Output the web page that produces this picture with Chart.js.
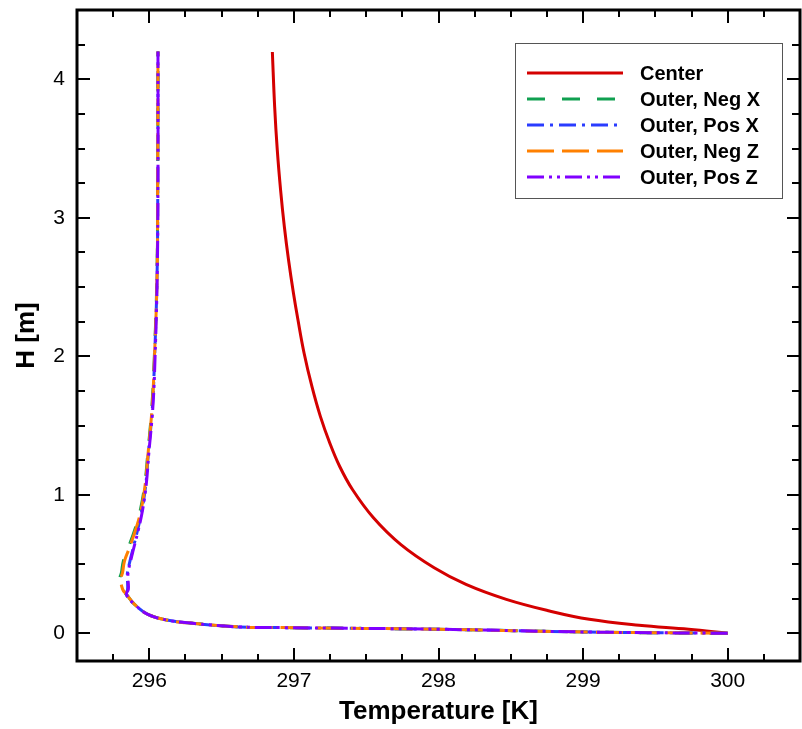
<!DOCTYPE html>
<html><head><meta charset="utf-8">
<script src="https://cdn.jsdelivr.net/npm/chart.js@4.4.1/dist/chart.umd.min.js"></script>
<style>html,body{margin:0;padding:0;background:#fff;}canvas{display:block;}</style>
</head><body>
<canvas id="c" width="802" height="729"></canvas>
<script>
// ---- data ----
const seriesNames = ['Center', 'Outer, Neg X', 'Outer, Pos X', 'Outer, Neg Z', 'Outer, Pos Z'];

const centerH = [0.000, 0.029, 0.058, 0.101, 0.161, 0.245, 0.353, 0.473, 0.640, 0.834, 1.038, 1.206, 1.374, 1.566, 1.780, 2.020, 2.263, 2.455, 2.695, 2.935, 3.200, 3.490, 3.800, 4.197];
const centerT = [300.000, 299.730, 299.387, 299.043, 298.768, 298.469, 298.190, 297.970, 297.740, 297.550, 297.405, 297.316, 297.248, 297.183, 297.125, 297.071, 297.028, 296.997, 296.963, 296.934, 296.908, 296.885, 296.867, 296.851];

const outerH = [0.000, 0.009, 0.029, 0.041, 0.046, 0.072, 0.094, 0.137, 0.209, 0.281, 0.317, 0.390, 0.437, 0.520, 0.605, 0.750, 0.900, 1.086, 1.280, 1.640, 2.000, 2.600, 3.320, 4.200];
const negXT  = [300.000, 299.040, 298.010, 296.930, 296.620, 296.300, 296.130, 295.990, 295.898, 295.842, 295.810, 295.795, 295.807, 295.820, 295.850, 295.900, 295.940, 295.970, 295.988, 296.018, 296.035, 296.053, 296.058, 296.060];
const posXT  = [300.000, 299.040, 298.010, 296.930, 296.620, 296.300, 296.130, 295.990, 295.898, 295.840, 295.850, 295.849, 295.849, 295.866, 295.886, 295.920, 295.951, 295.977, 295.992, 296.022, 296.037, 296.054, 296.059, 296.060];
const negZT  = [300.000, 299.040, 298.010, 296.930, 296.620, 296.300, 296.130, 295.990, 295.898, 295.842, 295.816, 295.803, 295.815, 295.828, 295.858, 295.906, 295.945, 295.973, 295.990, 296.020, 296.036, 296.054, 296.058, 296.060];
const posZT  = [300.000, 299.040, 298.010, 296.930, 296.620, 296.300, 296.130, 295.990, 295.898, 295.842, 295.855, 295.853, 295.853, 295.870, 295.890, 295.925, 295.955, 295.980, 295.995, 296.025, 296.040, 296.055, 296.060, 296.060];

const xTicks = [296, 297, 298, 299, 300];
const yTicks = [0, 1, 2, 3, 4];

const toPts = (xs, ys) => xs.map((v, i) => ({x: v, y: ys[i]}));

const FONT = 'Liberation Sans, Arial, sans-serif';

const styles = [
  {color: '#d40000', dash: []},
  {color: '#10a050', dash: [18, 17]},
  {color: '#2a3cff', dash: [17, 6, 3, 6]},
  {color: '#ff8000', dash: [27, 8]},
  {color: '#8000ff', dash: [17, 5, 3, 5, 3, 5]}
];
const seriesData = [
  toPts(centerT, centerH),
  toPts(negXT, outerH),
  toPts(posXT, outerH),
  toPts(negZT, outerH),
  toPts(posZT, outerH)
];

const datasets = seriesNames.map((n, i) => ({
  label: n,
  data: seriesData[i],
  borderColor: styles[i].color,
  backgroundColor: styles[i].color,
  borderDash: styles[i].dash,
  borderWidth: 3,
  pointRadius: 0,
  fill: false,
  tension: 0.4,
  order: i === 0 ? 10 : 5 - i
}));

const framePlugin = {
  id: 'frame',
  afterDraw(chart) {
    const {ctx, chartArea: a, scales: {x, y}} = chart;
    ctx.save();
    ctx.strokeStyle = '#000';
    ctx.lineWidth = 2;
    ctx.beginPath();
    for (let v = 295.5; v <= 300.5001; v += 0.25) {
      const px = Math.round(x.getPixelForValue(v));
      if (px <= a.left + 1 || px >= a.right - 1) continue;
      const major = Math.abs(v - Math.round(v)) < 1e-6;
      const L = major ? 13 : 7;
      ctx.moveTo(px, a.bottom); ctx.lineTo(px, a.bottom - L);
      ctx.moveTo(px, a.top); ctx.lineTo(px, a.top + L);
    }
    for (let v = -0.25; v <= 4.5001; v += 0.25) {
      const py = Math.round(y.getPixelForValue(v));
      if (py <= a.top + 1 || py >= a.bottom - 1) continue;
      const major = Math.abs(v - Math.round(v)) < 1e-6;
      const L = major ? 13 : 8;
      ctx.moveTo(a.left, py); ctx.lineTo(a.left + L, py);
      ctx.moveTo(a.right, py); ctx.lineTo(a.right - L, py);
    }
    ctx.stroke();
    ctx.lineWidth = 3;
    ctx.strokeRect(a.left, a.top, a.right - a.left, a.bottom - a.top);

    // legend
    const bx = 515.5, by = 43.5, bw = 267, bh = 155;
    ctx.fillStyle = '#fff';
    ctx.fillRect(bx, by, bw, bh);
    ctx.lineWidth = 1;
    ctx.strokeStyle = '#555';
    ctx.strokeRect(bx, by, bw, bh);
    const rows = [73, 99, 125, 151, 177];
    chart.data.datasets.forEach((ds, i) => {
      const ry = rows[i];
      ctx.save();
      ctx.strokeStyle = ds.borderColor;
      ctx.lineWidth = 3;
      ctx.setLineDash(ds.borderDash);
      ctx.beginPath();
      ctx.moveTo(527, ry); ctx.lineTo(623, ry);
      ctx.stroke();
      ctx.restore();
      ctx.fillStyle = '#000';
      ctx.font = 'bold 20px ' + FONT;
      ctx.textBaseline = 'middle';
      ctx.textAlign = 'left';
      ctx.fillText(ds.label, 640, ry + 1);
    });
    ctx.restore();
  }
};

new Chart(document.getElementById('c'), {
  type: 'line',
  data: {datasets},
  options: {
    responsive: false,
    animation: false,
    layout: {autoPadding: false, padding: {top: 10, right: 2, left: 0, bottom: 0}},
    plugins: {legend: {display: false}, tooltip: {enabled: false}},
    scales: {
      x: {
        type: 'linear', min: 295.5, max: 300.5, position: 'bottom',
        grid: {display: false, drawTicks: false}, border: {display: false},
        afterBuildTicks: s => { s.ticks = xTicks.map(v => ({value: v})); },
        ticks: {font: {family: FONT, size: 21}, color: '#000', padding: 8, maxRotation: 0},
        title: {display: true, text: 'Temperature [K]', color: '#000',
                font: {family: FONT, size: 26, weight: 'bold'}, padding: {top: 2, bottom: 2}},
        afterFit: s => { s.height = 68; s.paddingLeft = 0; s.paddingRight = 0; }
      },
      y: {
        type: 'linear', min: -0.2, max: 4.5, position: 'left',
        grid: {display: false, drawTicks: false}, border: {display: false},
        afterBuildTicks: s => { s.ticks = yTicks.map(v => ({value: v})); },
        ticks: {font: {family: FONT, size: 21}, color: '#000', padding: 12},
        title: {display: true, text: 'H [m]', color: '#000',
                font: {family: FONT, size: 26, weight: 'bold'}, padding: {top: 11, bottom: 2}},
        afterFit: s => { s.width = 77; s.paddingTop = 0; s.paddingBottom = 0; }
      }
    }
  },
  plugins: [framePlugin]
});
</script>
</body></html>
